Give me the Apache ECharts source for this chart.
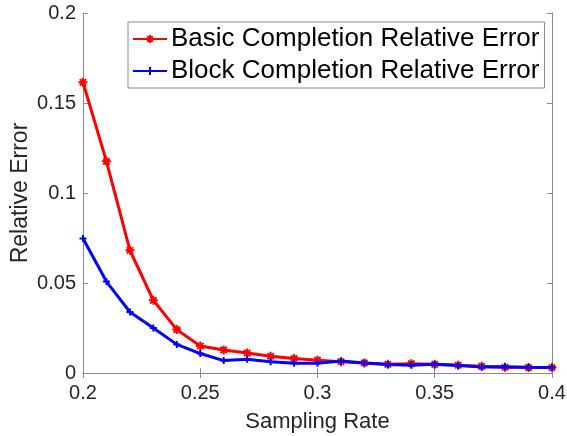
<!DOCTYPE html>
<html>
<head>
<meta charset="utf-8">
<script src="https://cdn.jsdelivr.net/npm/echarts@6/dist/echarts.min.js"></script>
<style>html,body{margin:0;padding:0;background:#fff}#c{width:567px;height:436px}</style>
</head>
<body>
<div id="c"></div>
<script>
const samplingRate = [0.2,0.21,0.22,0.23,0.24,0.25,0.26,0.27,0.28,0.29,0.3,0.31,0.32,0.33,0.34,0.35,0.36,0.37,0.38,0.39,0.4];
const basicError = [0.1615,0.1176,0.0682,0.0404,0.0241,0.0150,0.0128,0.0111,0.0093,0.0080,0.0071,0.0063,0.0056,0.0048,0.0052,0.0048,0.0043,0.0037,0.0032,0.0030,0.0030];
const blockError = [0.0747,0.0508,0.0339,0.0250,0.0159,0.0108,0.0069,0.0076,0.0063,0.0054,0.0054,0.0067,0.0055,0.0047,0.0043,0.0048,0.0041,0.0033,0.0035,0.0032,0.0030];
const xTicks = [0.2,0.25,0.3,0.35,0.4];
const yTicks = [0,0.05,0.1,0.15,0.2];

const font = 'Liberation Sans, Arial, Helvetica, sans-serif';
const axisColor = '#8a8a8a';
const fmt = v => String(+(+v).toFixed(2));
const star = 'path://M0,-10L0,10M-10,0L10,0M-7,-7L7,7M-7,7L7,-7';
const plus = 'path://M0,-10L0,10M-10,0L10,0';

const chart = echarts.init(document.getElementById('c'));
const baseAxis = {
  axisLine:{show:true,lineStyle:{color:axisColor,width:1}},
  axisTick:{show:true,inside:true,length:5,lineStyle:{color:axisColor}},
  splitLine:{show:false}
};
chart.setOption({
  animation:false,
  grid:{left:83,right:15,top:13,bottom:63,containLabel:false,outerBoundsMode:'none'},
  legend:{
    left:128, top:22,
    orient:'vertical',
    itemWidth:34, itemHeight:10, itemGap:6,
    padding:[4,5,4,4],
    borderColor:'#8a8a8a', borderWidth:1,
    backgroundColor:'#fff',
    textStyle:{fontFamily:font,fontSize:26,color:'#000',padding:[0,0,0,-1]},
    data:['Basic Completion Relative Error','Block Completion Relative Error']
  },
  xAxis:[
    Object.assign({}, baseAxis, {
      type:'value', min:xTicks[0], max:xTicks[xTicks.length-1], interval:0.05,
      name:'Sampling Rate', nameLocation:'middle', nameGap:38, nameMoveOverlap:false,
      nameTextStyle:{fontFamily:font,fontSize:22,color:'#262626'},
      axisLabel:{fontFamily:font,fontSize:20,color:'#262626',margin:10,formatter:fmt}
    }),
    Object.assign({}, baseAxis, {
      type:'value', position:'top', min:xTicks[0], max:xTicks[xTicks.length-1], interval:0.05,
      axisLabel:{show:false}
    })
  ],
  yAxis:[
    Object.assign({}, baseAxis, {
      type:'value', min:yTicks[0], max:yTicks[yTicks.length-1], interval:0.05,
      name:'Relative Error', nameLocation:'middle', nameGap:51, nameMoveOverlap:false,
      nameTextStyle:{fontFamily:font,fontSize:23,color:'#262626'},
      axisLabel:{fontFamily:font,fontSize:20,color:'#262626',margin:7,formatter:fmt}
    }),
    Object.assign({}, baseAxis, {
      type:'value', position:'right', min:yTicks[0], max:yTicks[yTicks.length-1], interval:0.05,
      axisLabel:{show:false}
    })
  ],
  series:[
    {
      name:'Basic Completion Relative Error', type:'line',
      data: samplingRate.map((x,i)=>[x,basicError[i]]),
      symbol:star, symbolSize:9,
      lineStyle:{color:'#ff0000',width:3},
      itemStyle:{color:'#ff0000',borderColor:'#ff0000',borderWidth:2},
      z:2
    },
    {
      name:'Block Completion Relative Error', type:'line',
      data: samplingRate.map((x,i)=>[x,blockError[i]]),
      symbol:plus, symbolSize:7,
      lineStyle:{color:'#0000ff',width:3},
      itemStyle:{color:'#0000ff',borderColor:'#0000ff',borderWidth:2},
      z:3
    }
  ]
});
</script>
</body>
</html>
